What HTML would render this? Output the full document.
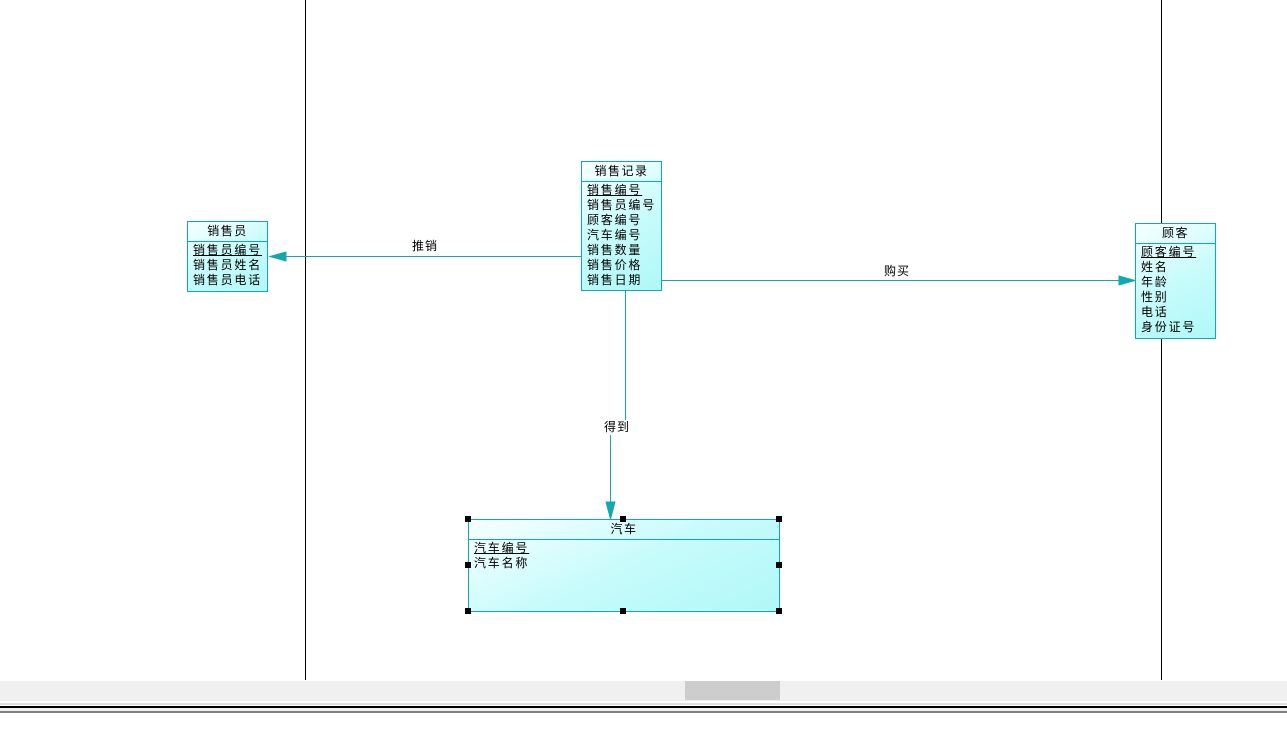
<!DOCTYPE html>
<html><head><meta charset="utf-8"><style>
body{margin:0;width:1287px;height:730px;background:#fff;overflow:hidden;position:relative;font-family:"Liberation Sans","Noto Sans CJK SC","WenQuanYi Zen Hei",sans-serif;font-size:12px;color:#000}
.ent{position:absolute;border:1px solid #11a8b0;background:linear-gradient(155deg,#f8ffff 0%,#c8fbfb 50%,#b0f8f8 100%);box-sizing:border-box}
.hd{border-bottom:1px solid #11a8b0;text-align:center;line-height:19px;height:19px;letter-spacing:1.5px}
.rows{padding:1px 0 0 5px;line-height:15px;letter-spacing:1.8px;white-space:nowrap}
.u{text-decoration:underline}
.lbl{position:absolute;font-size:12px;line-height:14px;letter-spacing:1px}
.h{position:absolute;width:6px;height:6px;background:#000}
</style></head><body>
<div style="position:absolute;left:305px;top:0;width:1px;height:680px;background:#000"></div>
<div style="position:absolute;left:1161px;top:0;width:1px;height:680px;background:#000"></div>
<svg style="position:absolute;left:0;top:0" width="1287" height="730">
<g stroke="#11a8b0" stroke-width="1" fill="#11a8b0">
<line x1="581" y1="256.5" x2="280" y2="256.5"/>
<polygon points="270,256.5 286,252 286,261"/>
<line x1="661" y1="280.5" x2="1122" y2="280.5"/>
<polygon points="1135,280.5 1119,276 1119,285"/>
<line x1="625.5" y1="290" x2="625.5" y2="420"/>
<line x1="610.5" y1="435" x2="610.5" y2="505"/>
<polygon points="610.5,519 606,502 615,502"/>
</g>
</svg>
<div class="lbl" style="left:412px;top:239px">推销</div>
<div class="lbl" style="left:884px;top:264px">购买</div>
<div class="lbl" style="left:604px;top:420px">得到</div>

<div class="ent" style="left:187px;top:221px;width:81px;height:71px">
<div class="hd">销售员</div>
<div class="rows"><span class="u">销售员编号</span><br>销售员姓名<br>销售员电话</div></div>

<div class="ent" style="left:581px;top:161px;width:81px;height:130px">
<div class="hd">销售记录</div>
<div class="rows"><span class="u">销售编号</span><br>销售员编号<br>顾客编号<br>汽车编号<br>销售数量<br>销售价格<br>销售日期</div></div>

<div class="ent" style="left:1135px;top:223px;width:81px;height:116px">
<div class="hd">顾客</div>
<div class="rows"><span class="u">顾客编号</span><br>姓名<br>年龄<br>性别<br>电话<br>身份证号</div></div>

<div class="ent" style="left:468px;top:519px;width:312px;height:93px">
<div class="hd">汽车</div>
<div class="rows"><span class="u">汽车编号</span><br>汽车名称</div></div>
<div class="h" style="left:465px;top:516px"></div>
<div class="h" style="left:620px;top:516px"></div>
<div class="h" style="left:776px;top:516px"></div>
<div class="h" style="left:465px;top:562px"></div>
<div class="h" style="left:776px;top:562px"></div>
<div class="h" style="left:465px;top:608px"></div>
<div class="h" style="left:620px;top:608px"></div>
<div class="h" style="left:776px;top:608px"></div>

<div style="position:absolute;left:0;top:681px;width:1287px;height:20px;background:#f0f0f0"></div>
<div style="position:absolute;left:685px;top:681px;width:95px;height:19px;background:#cdcdcd"></div>
<div style="position:absolute;left:0;top:703px;width:1287px;height:2px;background:#e0e0e0"></div>
<div style="position:absolute;left:0;top:706px;width:1287px;height:2px;background:#000"></div>
<div style="position:absolute;left:0;top:708px;width:1287px;height:3px;background:#f0f0f0"></div>
<div style="position:absolute;left:0;top:711px;width:1287px;height:2px;background:#808080"></div>
</body></html>
